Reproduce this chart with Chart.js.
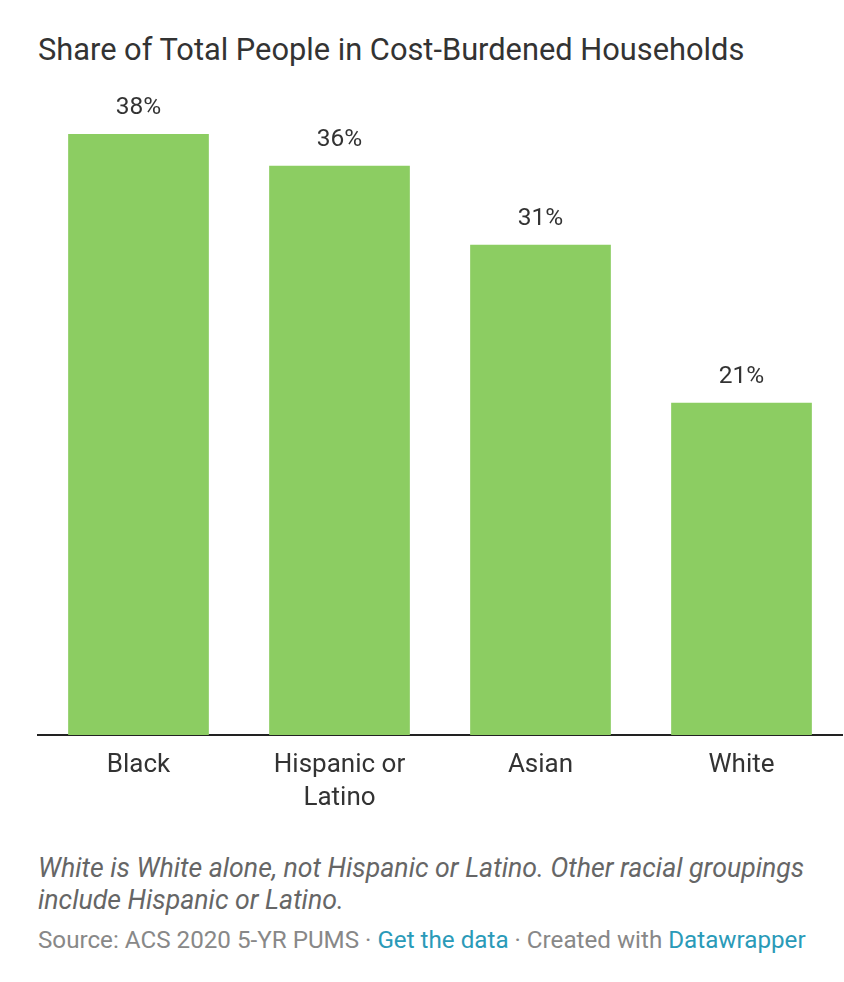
<!DOCTYPE html>
<html>
<head>
<meta charset="utf-8">
<script src="https://cdn.jsdelivr.net/npm/chart.js@4/dist/chart.umd.min.js"></script>
<style>
  body { margin: 0; background: #fff; font-family: Roboto, sans-serif; }
  #wrap { position: relative; width: 844px; height: 982px; overflow: hidden; }
  #title { position: absolute; left: 38px; top: 32px; font-size: 30.8px; line-height: 36px; color: #333; white-space: nowrap; }
  #chart { position: absolute; left: 0; top: 0; }
  #notes { position: absolute; left: 38px; top: 852px; font-size: 26.7px; line-height: 32px; color: #666; font-style: italic; white-space: nowrap; }
  #source { position: absolute; left: 38px; top: 926px; font-size: 24.2px; line-height: 28px; color: #888; white-space: nowrap; }
  #source a { color: #2a9ab8; text-decoration: none; }
</style>
</head>
<body>
<div id="wrap">
  <div id="title">Share of Total People in Cost-Burdened Households</div>
  <canvas id="chart" width="844" height="840"></canvas>
  <div id="notes">White is White alone, not Hispanic or Latino. Other racial groupings<br>include Hispanic or Latino.</div>
  <div id="source">Source: ACS 2020 5-YR PUMS · <a href="#">Get the data</a> · Created with <a href="#">Datawrapper</a></div>
</div>
<script>
const groups = ["Black", ["Hispanic or", "Latino"], "Asian", "White"];
const shares = [38, 36, 31, 21];

const barColor = "#8ccd62";
const textColor = "#333";

// value labels above each column and category names under the axis
const labelPlugin = {
  id: "labels",
  afterDatasetsDraw(chart) {
    const ctx = chart.ctx;
    const meta = chart.getDatasetMeta(0);
    const area = chart.chartArea;
    ctx.save();
    ctx.fillStyle = textColor;
    ctx.textAlign = "center";
    ctx.textBaseline = "middle";
    meta.data.forEach((bar, i) => {
      ctx.font = "24.5px Roboto";
      ctx.fillText(shares[i] + "%", bar.x, bar.y - 26);
      ctx.font = "26px Roboto";
      const lines = Array.isArray(groups[i]) ? groups[i] : [groups[i]];
      lines.forEach((line, j) => {
        ctx.fillText(line, bar.x, area.bottom + 30 + j * 33);
      });
    });
    ctx.restore();
  },
};

new Chart(document.getElementById("chart"), {
  type: "bar",
  data: {
    labels: groups,
    datasets: [
      {
        data: shares,
        backgroundColor: barColor,
        barPercentage: 0.7,
        categoryPercentage: 1,
      },
    ],
  },
  options: {
    responsive: false,
    animation: false,
    layout: { padding: { left: 38, right: 2, top: 134, bottom: 97 } },
    plugins: { legend: { display: false }, tooltip: { enabled: false } },
    scales: {
      x: {
        ticks: { display: false },
        grid: { display: false },
        border: { display: true, color: "#222", width: 2 },
      },
      y: { display: false, min: 0, max: Math.max(...shares) },
    },
  },
  plugins: [labelPlugin],
});
</script>
</body>
</html>
